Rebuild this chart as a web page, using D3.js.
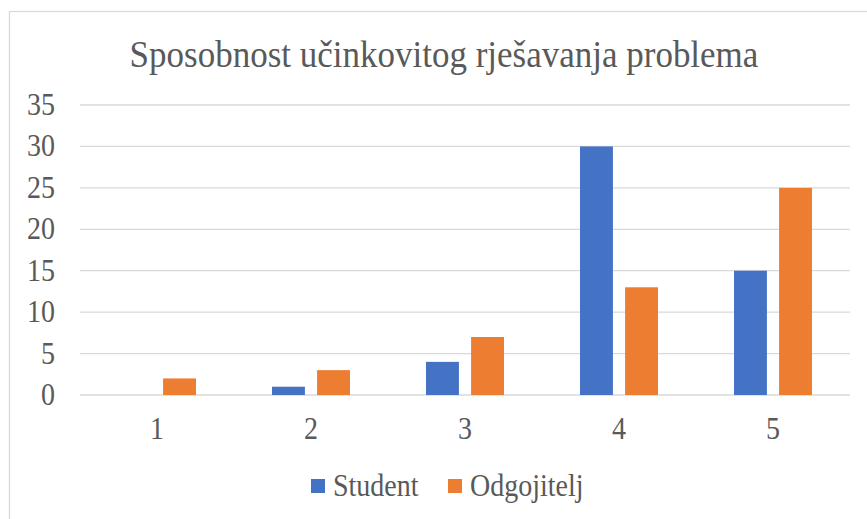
<!DOCTYPE html>
<html>
<head>
<meta charset="utf-8">
<script src="https://cdn.jsdelivr.net/npm/d3@7"></script>
<style>
  body { margin: 0; background: #fff; }
  text { font-family: "Liberation Serif", "Times New Roman", serif; fill: #595959; }
</style>
</head>
<body>
<div id="chart"></div>
<script>
var categories = ["1", "2", "3", "4", "5"];
var seriesNames = ["Student", "Odgojitelj"];
var student = [0, 1, 4, 30, 15];
var odgojitelj = [2, 3, 7, 13, 25];
var yTicks = [0, 5, 10, 15, 20, 25, 30, 35];
var colors = ["#4472C4", "#ED7D31"];

var width = 867, height = 519;
var plotLeft = 80, plotRight = 850, plotTop = 105, plotBottom = 395;
var stretch = 1.1; // the reference text is a bit taller than it is wide

function place(px, py) {
  return "translate(" + px + "," + py + ") scale(1," + stretch + ")";
}

var svg = d3.select("#chart").append("svg")
    .attr("width", width)
    .attr("height", height);

// chart border
svg.append("rect")
    .attr("x", 9.5).attr("y", 11.5)
    .attr("width", 900).attr("height", 600)
    .attr("fill", "none")
    .attr("stroke", "#d9d9d9")
    .attr("stroke-width", 1.3);

svg.append("text")
    .attr("transform", place(444, 67))
    .attr("text-anchor", "middle")
    .style("font-size", "35px")
    .text("Sposobnost učinkovitog rješavanja problema");

var x = d3.scaleBand().domain(categories).range([plotLeft, plotRight]);
var x1 = d3.scaleBand().domain(seriesNames).range([0, 78]).paddingInner(0.27);
var y = d3.scaleLinear().domain([0, 35]).range([plotBottom, plotTop]);

// gridlines
svg.append("g").selectAll("line")
    .data(yTicks)
    .join("line")
    .attr("x1", plotLeft).attr("x2", plotRight)
    .attr("y1", function(d) { return y(d); })
    .attr("y2", function(d) { return y(d); })
    .attr("stroke", "#d9d9d9")
    .attr("stroke-width", 1.3);

// y labels
svg.append("g").selectAll("text")
    .data(yTicks)
    .join("text")
    .attr("transform", function(d) { return place(55, y(d) + 10); })
    .attr("text-anchor", "end")
    .style("font-size", "28px")
    .text(function(d) { return d; });

// x labels
svg.append("g").selectAll("text")
    .data(categories)
    .join("text")
    .attr("transform", function(d) { return place(x(d) + x.bandwidth() / 2, 439); })
    .attr("text-anchor", "middle")
    .style("font-size", "28px")
    .text(function(d) { return d; });

var rows = categories.map(function(c, i) {
  return { cat: c, vals: [
    { name: seriesNames[0], v: student[i], col: colors[0] },
    { name: seriesNames[1], v: odgojitelj[i], col: colors[1] }
  ]};
});

var groups = svg.append("g").selectAll("g")
    .data(rows)
    .join("g")
    .attr("transform", function(d) {
      return "translate(" + (x(d.cat) + x.bandwidth() / 2 - 39) + ",0)";
    });

groups.selectAll("rect")
    .data(function(d) { return d.vals.filter(function(e) { return e.v > 0; }); })
    .join("rect")
    .attr("x", function(d) { return x1(d.name); })
    .attr("width", x1.bandwidth())
    .attr("y", function(d) { return y(d.v); })
    .attr("height", function(d) { return y(0) - y(d.v); })
    .attr("fill", function(d) { return d.col; });

// legend
var legendX = [311, 448];
var legend = svg.append("g").selectAll("g")
    .data(seriesNames)
    .join("g")
    .attr("transform", function(d, i) { return "translate(" + legendX[i] + ",479)"; });

legend.append("rect")
    .attr("width", 14).attr("height", 14)
    .attr("fill", function(d, i) { return colors[i]; });

legend.append("text")
    .attr("transform", place(22, 17))
    .style("font-size", "28px")
    .text(function(d) { return d; });
</script>
</body>
</html>
